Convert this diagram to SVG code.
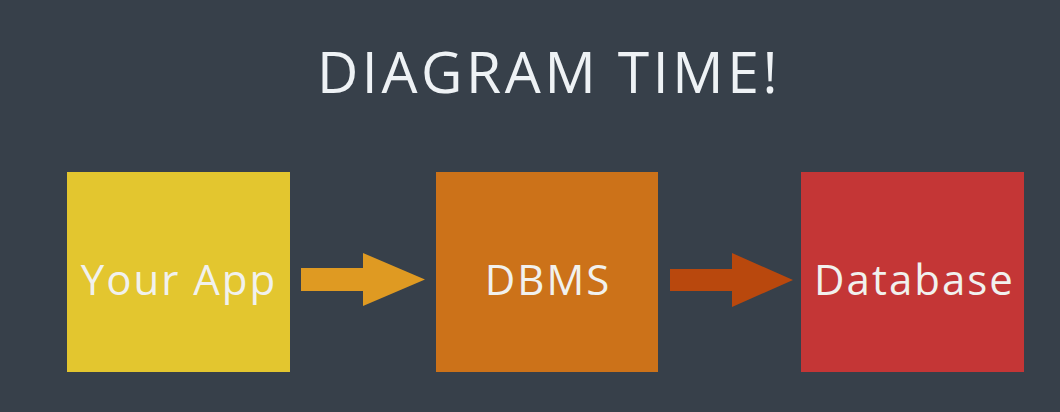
<svg xmlns="http://www.w3.org/2000/svg" width="1060" height="412" viewBox="0 0 1060 412">
<style>
.lbl{font-family:"Open Sans","Liberation Sans",sans-serif;fill:#f1f1ee;text-anchor:middle;font-size:42px;letter-spacing:2px}
.title{font-family:"Open Sans","Liberation Sans",sans-serif;fill:#eef2f5;text-anchor:middle;font-size:57px;letter-spacing:3.6px}
</style>
<rect width="1060" height="412" fill="#37404a"/>
<text class="title" x="549" y="93">DIAGRAM TIME!</text>
<g id="connectors">
<polygon fill="#df9a22" points="301,268 363,268 363,253 425,279.5 363,306 363,291 301,291"/>
<polygon fill="#b9480d" points="670,269 732,269 732,253 793,280 732,307 732,291 670,291"/>
</g>
<g id="your-app">
<rect x="67" y="172" width="223" height="200" fill="#e3c62f"/>
<text class="lbl" x="179" y="295">Your App</text>
</g>
<g id="dbms">
<rect x="436" y="172" width="222" height="200" fill="#cc7219"/>
<text class="lbl" x="548" y="295">DBMS</text>
</g>
<g id="database">
<rect x="801" y="172" width="223" height="200" fill="#c43636"/>
<text class="lbl" x="914.5" y="295">Database</text>
</g>
</svg>
